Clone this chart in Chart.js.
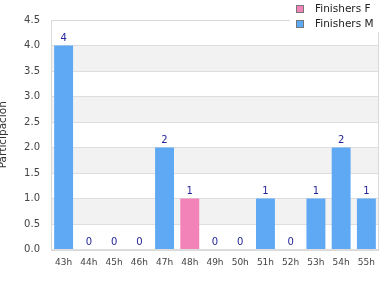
<!DOCTYPE html>
<html><head><meta charset="utf-8">
<script src="https://cdn.jsdelivr.net/npm/chart.js@4/dist/chart.umd.min.js"></script>
<style>html,body{margin:0;padding:0;background:#fff}canvas{display:block}</style>
</head><body>
<canvas id="c" width="390" height="300"></canvas>
<script>
const categories = ['43h','44h','45h','46h','47h','48h','49h','50h','51h','52h','53h','54h','55h'];
const finishersF = [0,0,0,0,0,1,0,0,0,0,0,0,0];
const finishersM = [4,0,0,0,2,0,0,0,1,0,1,2,1];
const seriesNames = ['Finishers F','Finishers M'];
const seriesColors = ['#f283b8','#5fa8f3'];
const yTitle = 'Participación';
const FONT = 'DejaVu Sans';

const bandsPlugin = {
  id: 'bands',
  beforeDraw(chart) {
    const {ctx, chartArea: a, scales: {y}} = chart;
    ctx.save();
    const ticks = y.ticks.map(t => t.value);
    for (let i = 0; i < ticks.length - 1; i++) {
      const v0 = ticks[i], v1 = ticks[i+1];
      if (Math.round(v0*2) % 2 === 1) {
        const p0 = y.getPixelForValue(v0), p1 = y.getPixelForValue(v1);
        ctx.fillStyle = '#f2f2f2';
        ctx.fillRect(a.left, p1, a.right - a.left, p0 - p1);
      }
    }
    ctx.restore();
  },
  afterDraw(chart) {
    const {ctx, chartArea: a, scales: {x, y}} = chart;
    ctx.save();
    ctx.strokeStyle = '#d9d9d9';
    ctx.lineWidth = 1;
    ctx.strokeRect(Math.round(a.left)+0.5, Math.round(a.top)+0.5, Math.round(a.right-a.left)-1, Math.round(a.bottom-a.top));
    ctx.fillStyle = '#25259a';
    ctx.font = '10px "' + FONT + '"';
    ctx.textAlign = 'center';
    ctx.textBaseline = 'alphabetic';
    categories.forEach((c, i) => {
      const total = finishersF[i] + finishersM[i];
      const px = x.getPixelForValue(i);
      const py = y.getPixelForValue(total);
      ctx.fillText(String(total), px, py - 5);
    });
    ctx.fillStyle = '#333';
    ctx.font = '10.5px "' + FONT + '"';
    ctx.translate(3.5, (a.top + a.bottom) / 2);
    ctx.rotate(-Math.PI/2);
    ctx.textAlign = 'center';
    ctx.textBaseline = 'middle';
    ctx.fillText(yTitle, 0, 0);
    ctx.restore();
    ctx.save();
    ctx.fillStyle = '#fff';
    ctx.fillRect(290, 0, 100, 32);
    ctx.font = '10.5px "' + FONT + '"';
    ctx.textAlign = 'left';
    ctx.textBaseline = 'middle';
    seriesNames.forEach((n, i) => {
      const cy = 9 + i * 15;
      ctx.fillStyle = seriesColors[i];
      ctx.fillRect(296.5, cy - 3.5, 7, 7);
      ctx.strokeStyle = '#777';
      ctx.strokeRect(296.5, cy - 3.5, 7, 7);
      ctx.fillStyle = '#222';
      ctx.fillText(n, 315, cy);
    });
    ctx.restore();
  }
};

new Chart(document.getElementById('c'), {
  type: 'bar',
  data: {
    labels: categories,
    datasets: [
      {label: seriesNames[0], data: finishersF, backgroundColor: seriesColors[0], categoryPercentage: 0.75, barPercentage: 1},
      {label: seriesNames[1], data: finishersM, backgroundColor: seriesColors[1], categoryPercentage: 0.75, barPercentage: 1}
    ]
  },
  options: {
    responsive: false,
    animation: false,
    devicePixelRatio: 1,
    layout: {padding: {left: 0, right: 11, top: 20, bottom: 0}},
    plugins: {legend: {display: false}, tooltip: {enabled: false}},
    scales: {
      x: {
        stacked: true,
        grid: {display: false, drawTicks: false},
        border: {display: false},
        ticks: {color: '#444', font: {family: FONT, size: 9}, padding: 8, maxRotation: 0, autoSkip: false},
        afterFit(s) { s.height = 50.5; }
      },
      y: {
        stacked: true,
        min: 0, max: 4.5,
        grid: {color: '#dedede', drawTicks: false},
        border: {display: false},
        ticks: {stepSize: 0.5, color: '#444', font: {family: FONT, size: 10}, padding: 11,
          callback: v => Number(v).toFixed(1)},
        afterFit(s) { s.width = 51; }
      }
    }
  },
  plugins: [bandsPlugin]
});
</script>
</body></html>
